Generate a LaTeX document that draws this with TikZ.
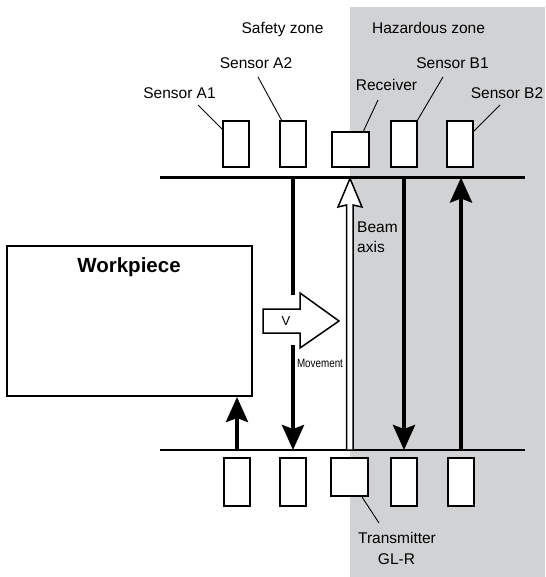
\documentclass[tikz,border=0pt]{standalone}
\usepackage{fontspec}
\setmainfont{Liberation Sans}
\usetikzlibrary{arrows.meta,calc}
\definecolor{hazgray}{RGB}{209,210,212}
\tikzset{
  lbl/.style={inner sep=0pt,anchor=base,font=\fontsize{15.5}{18}\selectfont},
  sensbox/.style={draw,line width=2pt,fill=white,minimum width=26pt,minimum height=46pt,inner sep=0pt},
  sensboxlow/.style={sensbox,minimum height=48pt},
  rxbox/.style={draw,line width=2pt,fill=white,minimum width=37pt,minimum height=36pt,inner sep=0pt},
  rail/.style={line width=2.5pt},
  leader/.style={line width=0.9pt},
  blk/.style={line width=4pt,-{Stealth[length=25pt,width=22pt,inset=4pt]}},
  hollow/.style={draw,line width=1.5pt,fill=white,line join=miter},
}
\begin{document}
\begin{tikzpicture}[x=1pt,y=-1pt]
\useasboundingbox (0,0) rectangle (545,577);
\fill[hazgray] (350,7) rectangle (545,577);

% labels
\node[lbl] (tsafe) at (282.5,34) {Safety zone};
\node[lbl] (thaz) at (428.5,34) {Hazardous zone};
\node[lbl] (ta2) at (256,69) {Sensor A2};
\node[lbl] (tb1) at (452.5,69) {Sensor B1};
\node[lbl] (ta1) at (179.5,99) {Sensor A1};
\node[lbl] (trx) at (386.5,91) {Receiver};
\node[lbl] (tb2) at (507,99) {Sensor B2};
\node[lbl] (ttx) at (397,543) {Transmitter};
\node[lbl] (tgl) at (396.5,564) {GL-R};

% top sensors
\node[sensbox] (a1) at (236,144) {};
\node[sensbox] (a2) at (292.5,144) {};
\node[rxbox,minimum height=35pt] (rx) at (350,149.5) {};
\node[sensbox] (b1) at (404,144) {};
\node[sensbox] (b2) at (460,144) {};

% bottom sensors
\node[sensboxlow] (la1) at (236.5,482) {};
\node[sensboxlow] (la2) at (292.5,482) {};
\node[rxbox,minimum height=38pt] (tx) at (349.5,477) {};
\node[sensboxlow] (lb1) at (404,482) {};
\node[sensboxlow] (lb2) at (460.5,482) {};

% leader lines
\coordinate (la1s) at (198,105); \coordinate (la1e) at (223,130);
\coordinate (la2s) at (258,77);  \coordinate (la2e) at (282,121);
\coordinate (lrxs) at (378,100); \coordinate (lrxe) at (363,132);
\coordinate (lb1s) at (443,77);  \coordinate (lb1e) at (417,121);
\coordinate (lb2s) at (500,105); \coordinate (lb2e) at (473,132);
\coordinate (ltxs) at (362,497); \coordinate (ltxe) at (379,523);
\draw[leader] (la1s) -- (la1e);
\draw[leader] (la2s) -- (la2e);
\draw[leader] (lrxs) -- (lrxe);
\draw[leader] (lb1s) -- (lb1e);
\draw[leader] (lb2s) -- (lb2e);
\draw[leader] (ltxs) -- (ltxe);

% rails
\coordinate (tl) at (160,177.5); \coordinate (tr) at (525,177.5);
\coordinate (bl) at (160,450);   \coordinate (br) at (525,450);
\draw[rail] (tl) -- (tr);
\draw[rail] (bl) -- (br);

% workpiece
\node[draw,line width=2pt,minimum width=245pt,minimum height=150pt,inner sep=0pt] (wp) at (129.5,321) {};
\node[lbl,font=\bfseries\fontsize{20.5}{24}\selectfont] (wptext) at (129,272) {Workpiece};

% black arrows
\coordinate (a2t) at (293,177.5); \coordinate (a2b) at (293,450);
\coordinate (b1t) at (404,177.5); \coordinate (b1b) at (404,450);
\coordinate (b2t) at (461,177.5); \coordinate (b2b) at (461,450);
\coordinate (wpa) at (237,450);
\draw[blk] (a2t) -- (a2b);
\draw[blk] (b1t) -- (b1b);
\draw[blk] (b2b) -- (b2t);
\draw[blk] (wpa) -- (wpa |- wp.south);

% beam axis hollow arrow
\draw[hollow] (346.5,450) -- (346.5,205) -- (338,207) -- (350,178.5) -- (362,207) -- (353,205) -- (353,450) -- cycle;
\node[lbl,anchor=base west] (tbeam) at (357,232) {Beam};
\node[lbl,anchor=base west] (taxis) at (357,252) {axis};

% movement arrow
\fill[white] (287,295) rectangle (299,345);
\draw[hollow] (263,309) -- (300,309) -- (300,293) -- (339,321) -- (300,348) -- (300,333) -- (263,333) -- cycle;
\node[lbl,font=\fontsize{13}{15}\selectfont] (tv) at (286,325) {V};
\node[lbl,font=\fontsize{12}{14}\selectfont,xscale=0.82] (tmov) at (320,367) {Movement};
\end{tikzpicture}
\end{document}
